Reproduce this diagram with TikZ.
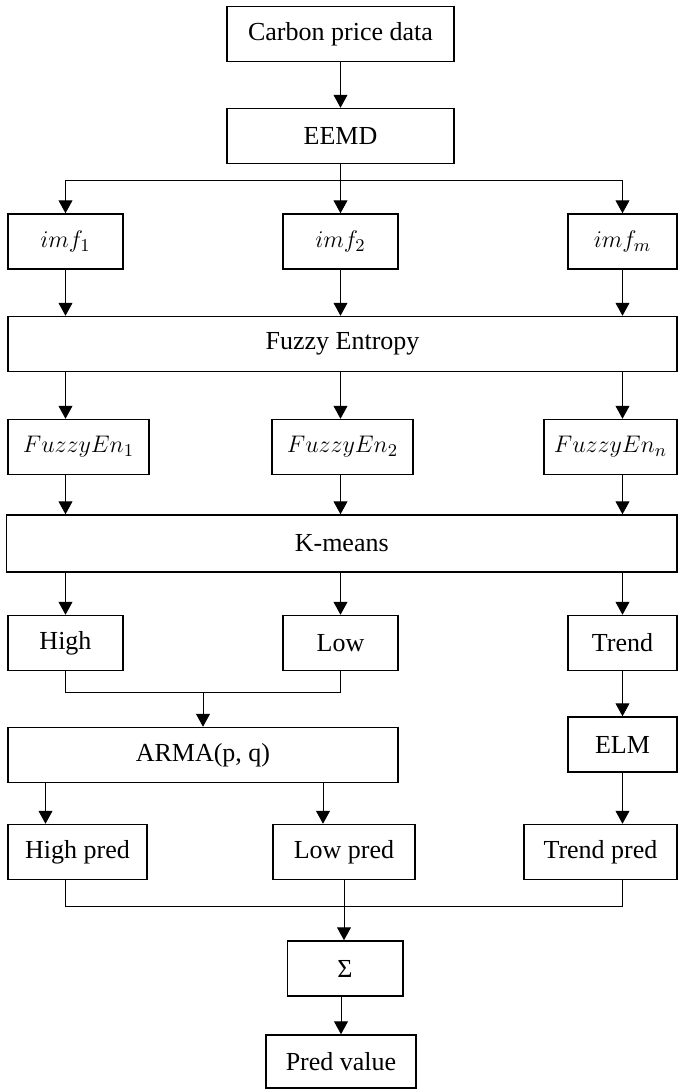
\documentclass[tikz,border=0pt]{standalone}
\usepackage{fontspec}
\setmainfont{Liberation Serif}
\usepackage{tikz}
\usetikzlibrary{arrows.meta}

\begin{document}
\begin{tikzpicture}[x=0.5pt,y=-0.5pt,line width=0.5pt]
	\tikzset{stage box/.style={draw,line width=0.75pt,inner sep=0pt,minimum height=27.5pt,font=\fontsize{13}{15}\selectfont}}
	\tikzset{flow/.style={-{Triangle[length=6.5pt,width=7pt]}}}
	\useasboundingbox (0,0) rectangle (678,1089);

	\node[stage box,minimum width=113.5pt] (carbon) at (340.5,34) {Carbon price data};
	\node[stage box,minimum width=113.5pt] (eemd) at (340.5,136) {EEMD};
	\node[stage box,minimum width=57.5pt] (imf1) at (65.5,241.5) {$imf_1$};
	\node[stage box,minimum width=57.5pt] (imf2) at (340.5,241.5) {$imf_2$};
	\node[stage box,minimum width=54.5pt] (imfm) at (622.5,241.5) {$imf_m$};
	\node[stage box,minimum width=334.5pt] (fuzzy) at (342.5,344) {Fuzzy Entropy};
	\node[stage box,minimum width=70.5pt] (fe1) at (78.5,447) {$FuzzyEn_1$};
	\node[stage box,minimum width=70.5pt] (fe2) at (342.5,447) {$FuzzyEn_2$};
	\node[stage box,minimum width=66.5pt] (fen) at (610.5,447) {$FuzzyEn_n$};
	\node[stage box,minimum width=335.25pt,minimum height=28.5pt] (kmeans) at (341.75,543.5) {K-means};
	\node[stage box,minimum width=57.5pt] (high) at (65.5,643) {High};
	\node[stage box,minimum width=57.5pt] (low) at (340.5,643) {Low};
	\node[stage box,minimum width=54.5pt] (trend) at (622.5,643) {Trend};
	\node[stage box,minimum width=195pt] (arma) at (203,755) {ARMA(p, q)};
	\node[stage box,minimum width=54.5pt] (elm) at (622.5,744.5) {ELM};
	\node[stage box,minimum width=69.5pt] (hpred) at (77.5,852) {High pred};
	\node[stage box,minimum width=71pt] (lpred) at (344,852) {Low pred};
	\node[stage box,minimum width=76.5pt] (tpred) at (600.5,852) {Trend pred};
	\node[stage box,minimum width=57.75pt] (sigma) at (345,968.5) {Σ};
	\node[stage box,minimum width=75pt,minimum height=26.5pt] (predv) at (341,1061.5) {Pred value};

	\draw[flow] (carbon.south) -- (eemd.north);
	\coordinate (split) at (340.5,180);
	\draw (eemd.south) -- (split);
	\draw (imf1.north |- split) -- (imfm.north |- split);
	\foreach \n in {imf1,imf2,imfm}
		\draw[flow] (\n.north |- split) -- (\n.north);
	\foreach \n/\m in {imf1/fe1,imf2/fe2,imfm/fen}{
		\draw[flow] (\n.south) -- (\n.south |- fuzzy.north);
		\draw[flow] (\n.south |- fuzzy.south) -- (\n.south |- \m.north);
		\draw[flow] (\n.south |- \m.south) -- (\n.south |- kmeans.north);
	}
	\foreach \n in {high,low,trend}
		\draw[flow] (kmeans.south -| \n) -- (\n.north);

	\coordinate (hlmerge) at (203,692);
	\draw (high.south) |- (hlmerge) -| (low.south);
	\draw[flow] (hlmerge) -- (arma.north);
	\draw[flow] (trend.south) -- (elm.north);
	\draw[flow] (elm.south) -- (elm.south |- tpred.north);
	\draw[flow] ([xshift=-16pt]hpred.north |- arma.south) -- ([xshift=-16pt]hpred.north);
	\draw[flow] ([xshift=-10.5pt]lpred.north |- arma.south) -- ([xshift=-10.5pt]lpred.north);

	\coordinate (predmerge) at (344,906);
	\draw ([xshift=-6pt]hpred.south) |- (predmerge) -| ([xshift=11pt]tpred.south);
	\draw[flow] (lpred.south) -- (lpred.south |- sigma.north);
	\draw[flow] (predv.north |- sigma.south) -- (predv.north);
\end{tikzpicture}
\end{document}
